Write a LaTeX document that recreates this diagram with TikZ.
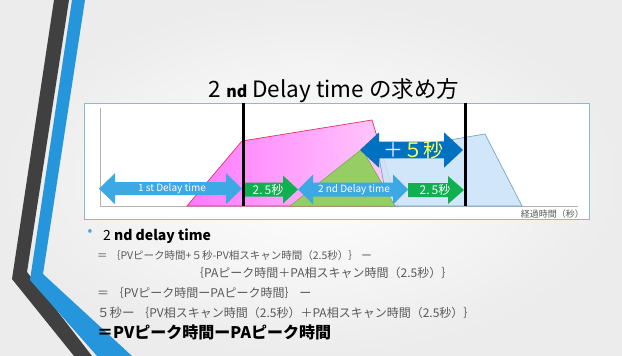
\documentclass[tikz,border=0pt]{standalone}
\usepackage{fontspec}
\setmainfont{Noto Sans CJK JP}
\definecolor{bgout}{RGB}{236,236,236}
\definecolor{darkband}{RGB}{64,64,64}
\definecolor{blueband}{RGB}{38,150,220}
\definecolor{boxline}{RGB}{140,185,205}
\definecolor{lblue}{RGB}{60,168,228}
\definecolor{dblue}{RGB}{0,112,192}
\definecolor{grn}{RGB}{16,176,80}
\definecolor{pinkline}{RGB}{230,50,90}
\definecolor{pinkA}{RGB}{255,120,255}
\definecolor{pinkB}{RGB}{255,205,250}
\definecolor{grnfill}{RGB}{150,205,100}
\definecolor{pafill}{RGB}{205,228,248}
\definecolor{paline}{RGB}{100,160,195}
\definecolor{txtgray}{RGB}{89,89,89}
\definecolor{yel}{RGB}{255,255,90}
\newcommand\dblarr[6]{% x1 x2 yc shafthalf headhalf headlen
 (#1,#3) -- (#1+#6,#3-#5) -- (#1+#6,#3-#4) -- (#2-#6,#3-#4) -- (#2-#6,#3-#5) -- (#2,#3) -- (#2-#6,#3+#5) -- (#2-#6,#3+#4) -- (#1+#6,#3+#4) -- (#1+#6,#3+#5) -- cycle}
\newcommand\sglarr[6]{%
 (#1,#3-#4) -- (#2-#6,#3-#4) -- (#2-#6,#3-#5) -- (#2,#3) -- (#2-#6,#3+#5) -- (#2-#6,#3+#4) -- (#1,#3+#4) -- cycle}
\begin{document}
\begin{tikzpicture}[x=1pt,y=-1pt,
  arrtxt/.style={text=white,font=\fontsize{10}{11}\selectfont,inner sep=0pt},
  body/.style={text=txtgray,font=\fontsize{12}{13}\selectfont,anchor=base west,inner sep=0pt},
  marker/.style={line width=3pt,black}]
\useasboundingbox (0,0) rectangle (622,356);
% background
\shade[inner color=white,outer color=bgout] (0,0) rectangle (622,356);
% left decoration
\fill[darkband] (54,0) -- (69,0) -- (27,272) -- (92,356) -- (74,356) -- (12,279) -- cycle;
\fill[blueband] (72,0) -- (85,0) -- (43,274) -- (132,356) -- (97,356) -- (30,280) -- cycle;
% title
\node[anchor=base,inner sep=0pt,font=\fontsize{22.5}{24}\selectfont] (title) at (334,97)
  {2 {\bfseries\fontsize{16}{17}\selectfont nd} Delay time の求め方};
% chart box
\draw[boxline,fill=white,line width=1pt] (84,103) rectangle (589,219);
% axes
\coordinate (o) at (100,206);
\coordinate (ytop) at (100,108);
\coordinate (xend) at (578,206);
\draw[gray!60,line width=0.8pt] (ytop) -- (o) -- (xend);
\node[anchor=east,inner sep=0pt,text=txtgray,font=\fontsize{9}{10}\selectfont] (xlabel) at (584,214) {経過時間（秒）};
% curves
\shade[left color=pinkA,right color=pinkB,draw=pinkline,line width=0.7pt] (187,206) -- (242,141) -- (372,120) -- (398,206) -- cycle;
\filldraw[fill=pafill,draw=paline,line width=0.7pt,opacity=0.9] (388,206) -- (378,152) -- (485,134) -- (522,206) -- cycle;
\filldraw[fill=grnfill,draw=grnfill!80!black,line width=0.5pt] (290,206) -- (362,149) -- (395,206) -- cycle;
% arrows
\fill[lblue] \dblarr{99}{242}{188.7}{6.5}{15.5}{16};
\node[arrtxt] (a1) at (172,188.7) {1 st Delay time};
\fill[grn] \sglarr{243}{298}{189.5}{7}{14}{15};
\node[arrtxt,font=\fontsize{12}{13}\selectfont] (g1) at (268,189.5) {2.\,5秒};
\fill[lblue] \dblarr{298}{408}{189.5}{7}{15}{15};
\node[arrtxt] (a2) at (354,189.5) {2 nd Delay time};
\fill[grn] \sglarr{408}{464}{190}{7}{14}{16};
\node[arrtxt,font=\fontsize{12}{13}\selectfont] (g2) at (435,190) {2.\,5秒};
\fill[dblue] \dblarr{360}{463}{150}{8.3}{17.7}{19};
\node[inner sep=0pt,font=\fontsize{20}{21}\selectfont] (p5) at (413,150) {\textcolor{white!90!blue}{＋}\textcolor{yel}{５秒}};
% markers
\coordinate (m1t) at (243,103); \coordinate (m1b) at (243,206);
\coordinate (m2t) at (465,103); \coordinate (m2b) at (465,206);
\draw[marker] (m1t) -- (m1b);
\draw[marker] (m2t) -- (m2b);
% bullet text
\node[text=lblue,inner sep=0pt,font=\fontsize{14}{14}\selectfont] (bul) at (90,232) {•};
\node[anchor=base west,inner sep=0pt,font=\fontsize{14}{15}\selectfont] (h) at (103,240) {2 {\bfseries nd delay time}};
\node[body,font=\fontsize{10.5}{12}\selectfont] (l1) at (97,259.5) {＝ ｛PVピーク時間+５秒-PV相スキャン時間（2.5秒）｝ ー};
\node[body] (l2) at (192,277) {｛PAピーク時間＋PA相スキャン時間（2.5秒）｝};
\node[body] (l3) at (97,297.5) {＝ ｛PVピーク時間ーPAピーク時間｝ ー};
\node[body] (l4) at (97,317) {{\fontsize{12.5}{13}\selectfont ５秒ー} ｛PV相スキャン時間（2.5秒）＋PA相スキャン時間（2.5秒）｝};
\node[anchor=base west,inner sep=0pt,font=\fontsize{16}{17}\selectfont\bfseries] (l5) at (97,338) {＝PVピーク時間ーPAピーク時間};
\end{tikzpicture}
\end{document}
